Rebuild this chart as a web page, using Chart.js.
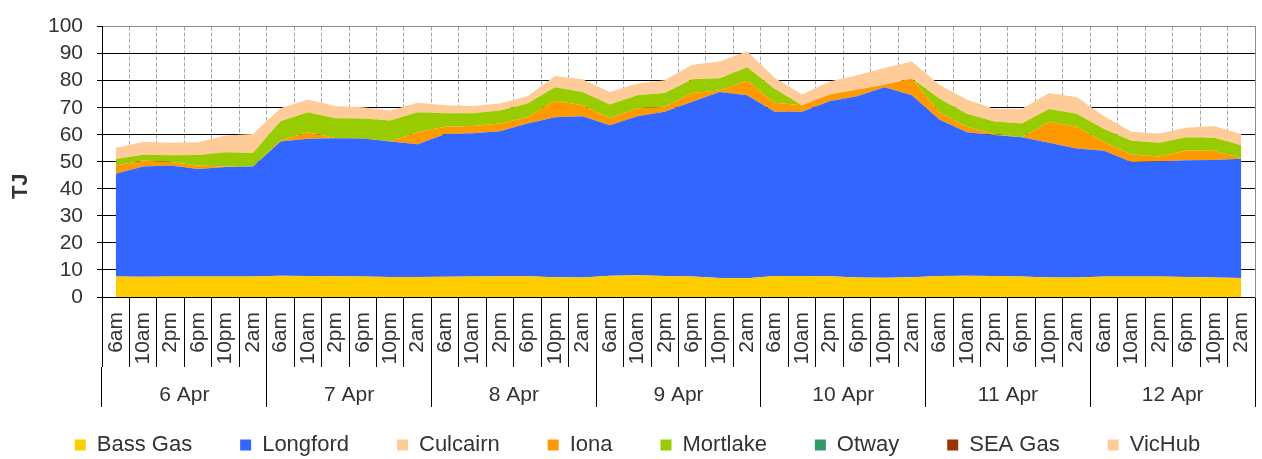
<!DOCTYPE html>
<html>
<head>
<meta charset="utf-8">
<script src="https://cdn.jsdelivr.net/npm/chart.js"></script>
<style>
  html, body { margin: 0; padding: 0; background: #fff; overflow: hidden; }
  .wrap { position: relative; width: 1262px; height: 459px; }
</style>
</head>
<body>
<div class="wrap"><canvas id="area-chart"></canvas></div>
<script>
const times = ['6am', '10am', '2pm', '6pm', '10pm', '2am'];
const days = ['6 Apr', '7 Apr', '8 Apr', '9 Apr', '10 Apr', '11 Apr', '12 Apr'];
const yTicks = [0, 10, 20, 30, 40, 50, 60, 70, 80, 90, 100];

// TJ per 4-hour slot
const bassGas = [7.6, 7.5, 7.6, 7.6, 7.6, 7.6, 7.9, 7.8, 7.7, 7.6, 7.4, 7.4,
  7.5, 7.6, 7.7, 7.7, 7.3, 7.2, 7.9, 8.0, 7.8, 7.6, 7.0, 6.9,
  7.8, 7.8, 7.7, 7.2, 7.1, 7.3, 7.8, 7.9, 7.8, 7.6, 7.2, 7.2,
  7.6, 7.6, 7.6, 7.4, 7.2, 7.0];
const longford = [38.0, 40.8, 41.0, 39.7, 40.5, 40.7, 49.6, 50.7, 51.0, 51.0, 50.1, 49.1,
  52.8, 53.0, 53.6, 56.5, 59.2, 59.6, 55.6, 58.8, 60.7, 64.6, 68.8, 67.7,
  60.7, 60.7, 64.7, 67.0, 70.5, 67.3, 57.8, 53.0, 52.1, 51.5, 49.8, 47.7,
  46.5, 42.3, 42.5, 43.2, 43.5, 44.1];
const culcairn = [0, 0, 0, 0, 0, 0, 0, 0, 0, 0, 0, 0, 0, 0, 0, 0, 0, 0, 0, 0, 0,
  0, 0, 0, 0, 0, 0, 0, 0, 0, 0, 0, 0, 0, 0, 0, 0, 0, 0, 0, 0, 0];
const iona = [3.0, 2.2, 1.3, 1.3, 0.2, 0, 0.4, 2.4, 0.1, 0, 0.1, 4.4,
  2.7, 2.6, 2.9, 2.3, 6.1, 4.1, 2.7, 3.0, 1.9, 3.2, 0.6, 5.4,
  3.3, 2.4, 2.5, 2.4, 0.9, 6.2, 2.7, 2.1, 0.4, 0, 7.7, 8.1,
  3.2, 2.8, 1.9, 3.6, 3.4, 0.2];
const mortlake = [2.4, 2.1, 2.5, 3.9, 5.2, 5.0, 7.1, 7.4, 7.3, 7.4, 7.7, 7.4,
  5.0, 4.8, 4.8, 5.1, 5.0, 4.9, 5.0, 4.8, 5.0, 5.1, 4.5, 5.0,
  5.2, 0, 0, 0, 0, 0, 5.1, 4.8, 4.6, 5.1, 4.8, 4.8,
  4.8, 5.1, 5.0, 4.9, 4.8, 4.8];
const otway = [0, 0, 0, 0, 0, 0, 0, 0, 0, 0, 0, 0, 0, 0, 0, 0, 0, 0, 0, 0, 0,
  0, 0, 0, 0, 0, 0, 0, 0, 0, 0, 0, 0, 0, 0, 0, 0, 0, 0, 0, 0, 0];
const seaGas = [0, 0, 0, 0, 0, 0, 0, 0, 0, 0, 0, 0, 0, 0, 0, 0, 0, 0, 0, 0, 0,
  0, 0, 0, 0, 0, 0, 0, 0, 0, 0, 0, 0, 0, 0, 0, 0, 0, 0, 0, 0, 0];
const vicHub = [4.2, 4.7, 4.6, 4.7, 6.2, 7.0, 4.8, 4.7, 4.5, 4.2, 3.7, 3.5,
  2.9, 2.6, 2.6, 2.6, 4.1, 4.7, 4.6, 4.4, 4.8, 5.4, 6.2, 5.9,
  4.1, 4.0, 4.8, 5.4, 6.2, 6.3, 5.1, 5.2, 4.7, 5.3, 5.9, 6.2,
  4.7, 3.3, 3.5, 3.5, 4.3, 4.2];

const labels = days.flatMap(() => times);

Chart.defaults.font.family = '"Liberation Sans", Arial, sans-serif';
Chart.defaults.color = '#333';

function area(label, values, colour, fill) {
  return {
    label: label,
    data: values,
    backgroundColor: colour,
    borderColor: 'rgba(0,0,0,0)',
    borderWidth: 0,
    pointRadius: 0,
    pointHoverRadius: 0,
    fill: fill,
    xAxisID: 'x',
    yAxisID: 'y'
  };
}

const data = {
  labels: labels,
  datasets: [
    area('Bass Gas', bassGas, '#FFCC00', 'origin'),
    area('Longford', longford, '#3366FF', '-1'),
    area('Culcairn', culcairn, '#FFCC99', '-1'),
    area('Iona', iona, '#FF9900', '-1'),
    area('Mortlake', mortlake, '#99CC00', '-1'),
    area('Otway', otway, '#339966', '-1'),
    area('SEA Gas', seaGas, '#993300', '-1'),
    area('VicHub', vicHub, '#FFCC99', '-1')
  ]
};

const config = {
  type: 'line',
  data: data,
  options: {
    responsive: true,
    maintainAspectRatio: false,
    animation: false,
    // left padding nudges the centred legend right; the y axis box makes up the rest
    layout: { padding: { top: 18, right: 7, bottom: -7, left: 20 } },
    plugins: {
      tooltip: { enabled: false },
      legend: {
        position: 'bottom',
        labels: { boxWidth: 11, boxHeight: 11, padding: 48, color: '#333', font: { size: 22 } }
      }
    },
    scales: {
      x: {
        axis: 'x',
        offset: true,
        weight: 0,
        grid: { offset: true, color: '#a6a6a6', lineWidth: 1, tickColor: '#000', tickLength: 70 },
        border: { color: '#000', dash: [4, 2] },
        ticks: { autoSkip: false, minRotation: 90, maxRotation: 90, padding: -55, font: { size: 21 } },
        afterFit: s => { s.height = 70; }
      },
      x2: {
        axis: 'x',
        type: 'category',
        labels: days,
        position: 'bottom',
        offset: true,
        weight: 1,
        grid: { offset: true, drawOnChartArea: false, tickColor: '#000', tickLength: 40 },
        border: { display: false },
        // mirror keeps the day names from being clipped to this thin axis box
        ticks: { autoSkip: false, maxRotation: 0, mirror: true, padding: -41, font: { size: 21 } },
        afterFit: s => { s.height = 19; }
      },
      y: {
        axis: 'y',
        stacked: true,
        min: 0,
        max: 100,
        afterBuildTicks: s => { s.ticks = yTicks.map(v => ({ value: v })); },
        ticks: { autoSkip: false, padding: 14, font: { size: 21 } },
        grid: {
          color: c => (c.tick && c.tick.value === 100 ? '#8c8c8c' : '#000'),
          tickColor: '#000',
          tickLength: 5
        },
        border: { color: '#000' },
        title: {
          display: true,
          text: 'TJ        ',
          color: '#333',
          font: { size: 22, weight: 'bold' },
          padding: { top: -12, bottom: 0 }
        },
        afterFit: s => { s.width = 82; }
      },
      yRight: {
        axis: 'y',
        position: 'right',
        min: 0,
        max: 100,
        ticks: { display: false },
        grid: { drawOnChartArea: false, drawTicks: false },
        border: { color: '#8c8c8c' },
        afterFit: s => { s.width = 0; }
      }
    }
  }
};

const myChart = new Chart(document.getElementById('area-chart'), config);
</script>
</body>
</html>
